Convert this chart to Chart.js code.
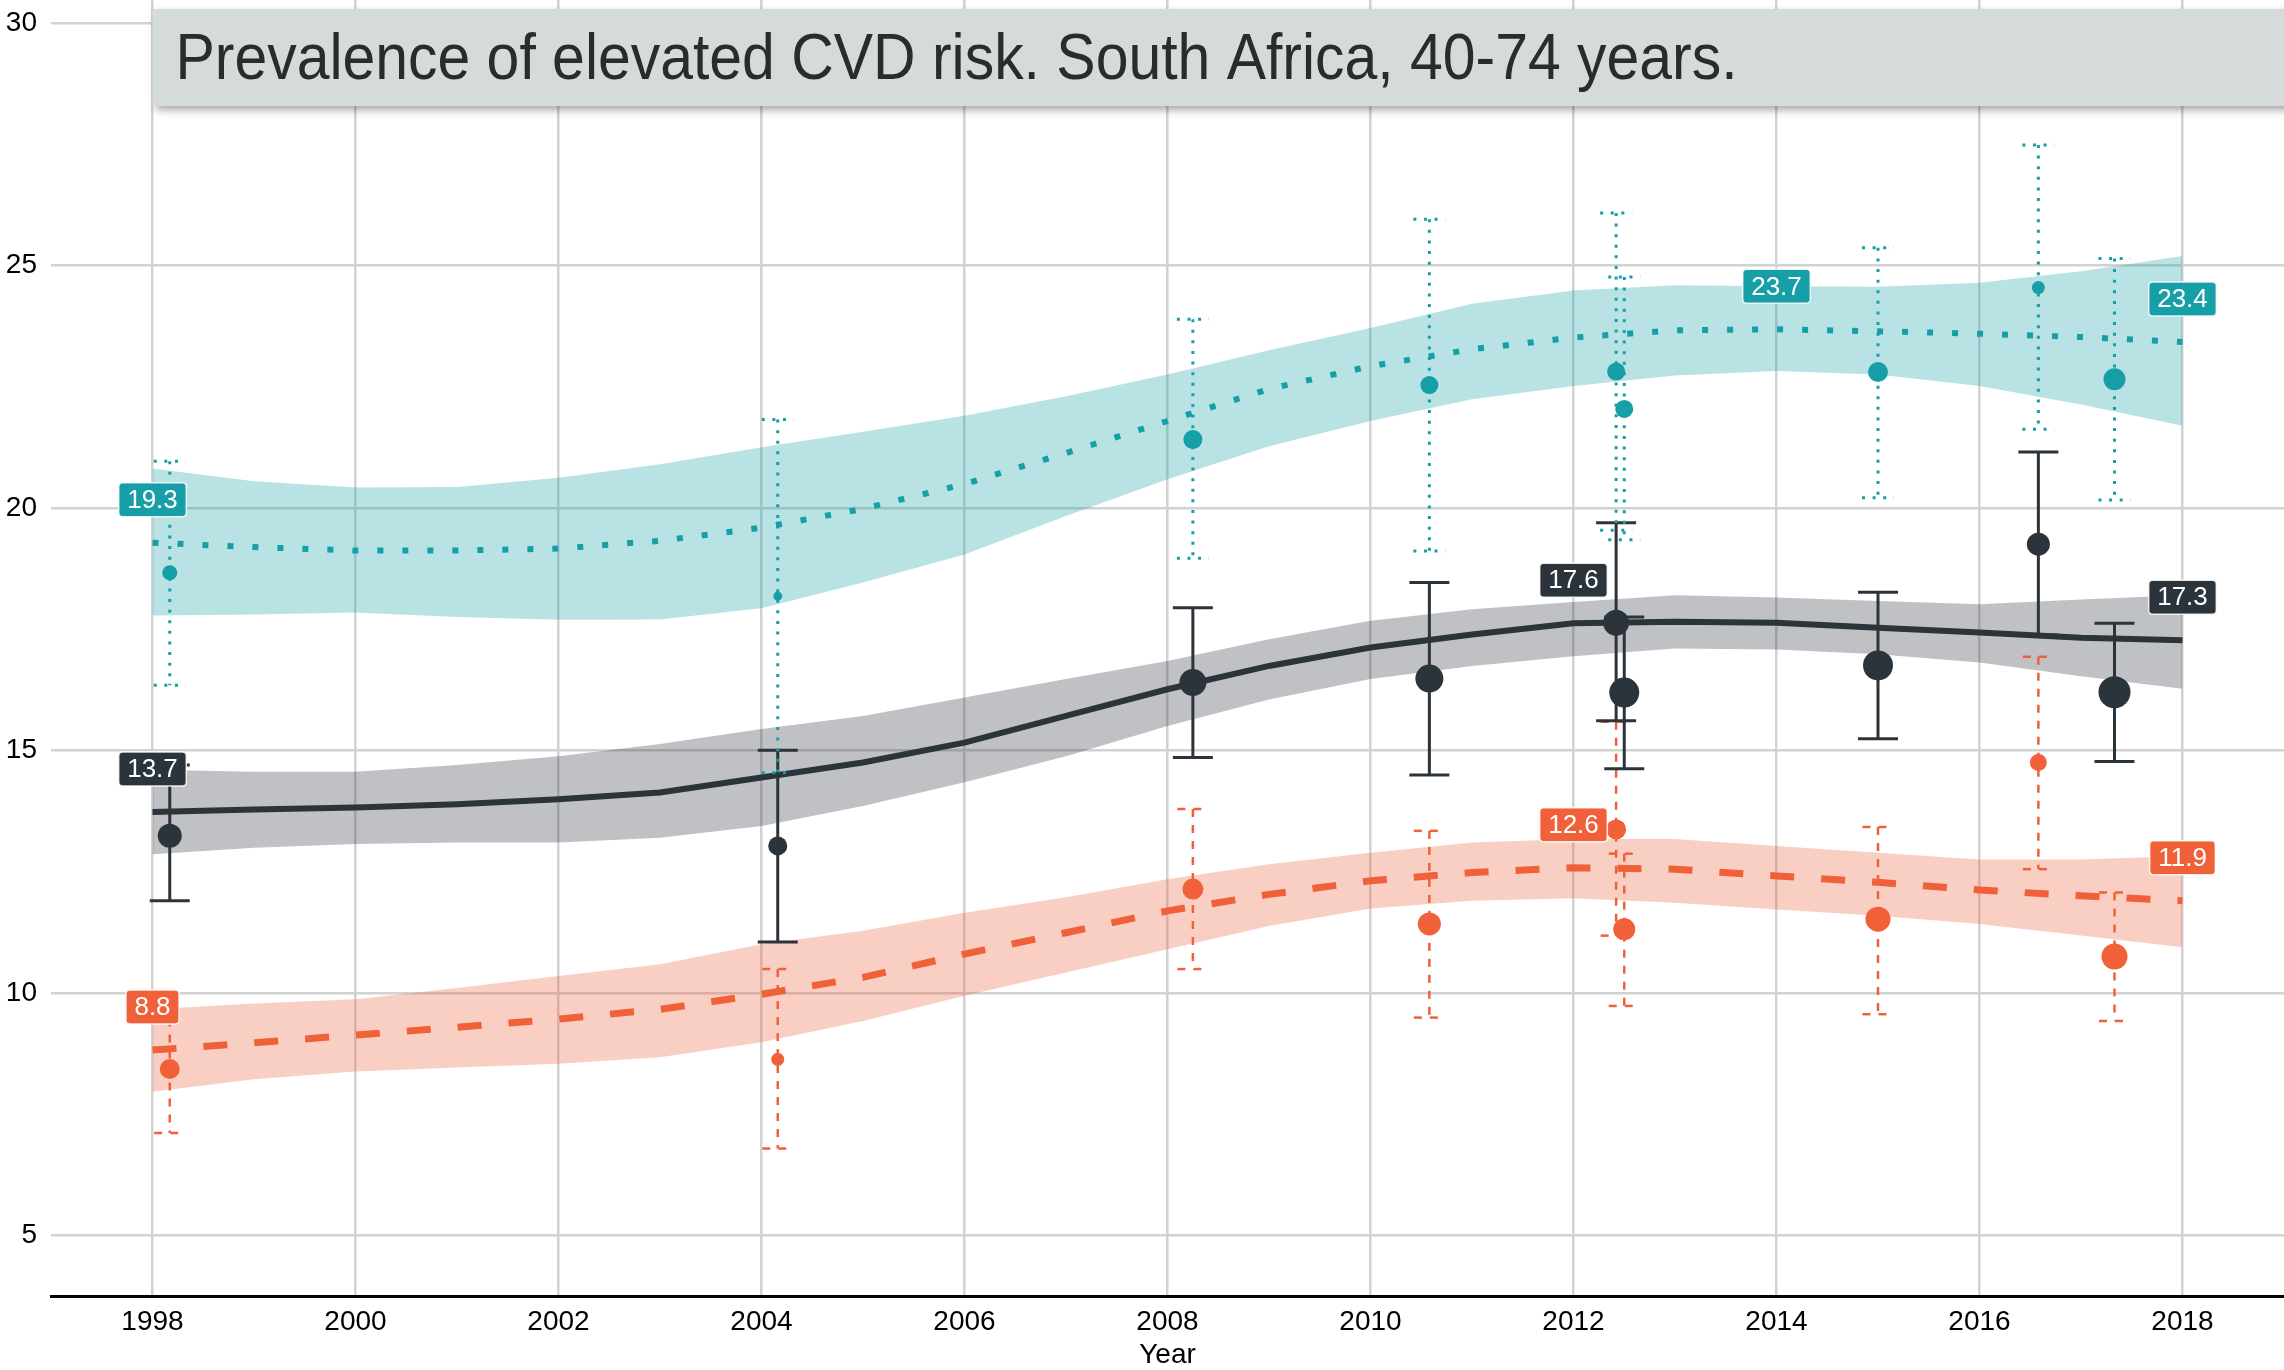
<!DOCTYPE html>
<html lang="en">
<head>
<meta charset="UTF-8">
<title>Prevalence of elevated CVD risk. South Africa, 40-74 years.</title>
<script src="https://cdn.jsdelivr.net/npm/chart.js"></script>
<style>
    body {
        margin: 0;
        padding: 0;
        background: #fff;
    }

    #cvdChart {
        display: block;
    }
</style>
</head>
<body>
<canvas id="cvdChart" width="2284" height="1370"></canvas>

<script>
    // chart text
    const titleText = 'Prevalence of elevated CVD risk. South Africa, 40-74 years.';
    const xTitle = 'Year';
    const xTicks = [1998, 2000, 2002, 2004, 2006, 2008, 2010, 2012, 2014, 2016, 2018];
    const yTicks = [5, 10, 15, 20, 25, 30];

    // fitted trend, one value per year
    const trendYears = [1998, 1999, 2000, 2001, 2002, 2003, 2004, 2005, 2006, 2007, 2008,
        2009, 2010, 2011, 2012, 2013, 2014, 2015, 2016, 2017, 2018];

    const tealTrend = [19.28, 19.19, 19.12, 19.12, 19.16, 19.32, 19.59, 19.98, 20.49, 21.13, 21.79,
        22.45, 22.92, 23.27, 23.51, 23.66, 23.68, 23.64, 23.59, 23.52, 23.42];
    const tealUpper = [20.81, 20.55, 20.42, 20.43, 20.62, 20.90, 21.25, 21.57, 21.90, 22.30, 22.75,
        23.25, 23.71, 24.21, 24.48, 24.59, 24.57, 24.56, 24.64, 24.88, 25.19];
    const tealLower = [17.78, 17.80, 17.84, 17.75, 17.69, 17.70, 17.93, 18.46, 19.04, 19.83, 20.59,
        21.27, 21.79, 22.24, 22.51, 22.73, 22.82, 22.75, 22.51, 22.13, 21.69];

    const darkTrend = [13.73, 13.78, 13.82, 13.89, 13.99, 14.13, 14.44, 14.75, 15.16, 15.71, 16.26,
        16.74, 17.12, 17.39, 17.62, 17.65, 17.63, 17.53, 17.43, 17.32, 17.27];
    const darkUpper = [14.60, 14.56, 14.56, 14.70, 14.88, 15.13, 15.44, 15.71, 16.09, 16.47, 16.84,
        17.29, 17.67, 17.91, 18.06, 18.20, 18.15, 18.08, 18.01, 18.11, 18.20];
    const darkLower = [12.86, 12.99, 13.07, 13.10, 13.10, 13.20, 13.44, 13.85, 14.34, 14.88, 15.50,
        16.05, 16.47, 16.74, 16.94, 17.10, 17.08, 16.98, 16.81, 16.53, 16.27];

    const orangeTrend = [8.82, 8.97, 9.13, 9.29, 9.46, 9.66, 9.97, 10.32, 10.80, 11.24, 11.69,
        12.03, 12.31, 12.48, 12.58, 12.55, 12.41, 12.28, 12.12, 12.00, 11.90];
    const orangeUpper = [9.66, 9.78, 9.87, 10.10, 10.35, 10.59, 11.00, 11.28, 11.65, 11.97, 12.34,
        12.65, 12.89, 13.10, 13.17, 13.17, 13.03, 12.89, 12.75, 12.75, 12.82];
    const orangeLower = [7.96, 8.22, 8.38, 8.46, 8.54, 8.67, 8.98, 9.42, 9.94, 10.42, 10.90,
        11.38, 11.74, 11.90, 11.95, 11.86, 11.72, 11.59, 11.42, 11.18, 10.94];

    // survey estimates
    const surveyYears = [1998.17, 2004.16, 2008.25, 2010.58, 2012.42, 2012.50, 2015.00, 2016.58, 2017.33];

    const tealPoints = [18.66, 18.18, 21.41, 22.53, 22.81, 22.04, 22.80, 24.54, 22.65];
    const tealLow = [16.34, 14.54, 18.96, 19.11, 19.54, 19.34, 20.21, 21.62, 20.16];
    const tealHigh = [20.96, 21.82, 23.89, 25.95, 26.08, 24.76, 25.36, 27.48, 25.14];
    const tealSizes = [7.5, 4.5, 9.5, 9, 9, 9, 10, 6.5, 11];

    const darkPoints = [13.24, 13.03, 16.40, 16.48, 17.63, 16.19, 16.75, 19.25, 16.20];
    const darkLow = [11.90, 11.05, 14.85, 14.49, 15.61, 14.62, 15.24, 17.38, 14.77];
    const darkHigh = [14.70, 15.00, 17.94, 18.46, 19.69, 17.75, 18.26, 21.15, 17.62];
    const darkSizes = [12, 9.5, 13.5, 14, 13, 15, 15, 11.5, 16];

    const orangePoints = [8.43, 8.63, 12.14, 11.42, 13.37, 11.31, 11.52, 14.75, 10.75];
    const orangeLow = [7.11, 6.79, 10.49, 9.49, 11.18, 9.73, 9.56, 12.55, 9.42];
    const orangeHigh = [9.80, 10.49, 13.79, 13.34, 15.59, 12.87, 13.42, 16.93, 12.07];
    const orangeSizes = [10, 6.5, 10.5, 11.5, 10, 11, 12.5, 8.5, 13];

    // years that get a value label on the trend
    const tealLabelYears = [1998, 2014, 2018];
    const darkLabelYears = [1998, 2012, 2018];
    const orangeLabelYears = [1998, 2012, 2018];

    const fontFamily = '"Liberation Sans", Arial, sans-serif';

    const groups = [
        {
            color: '#179fa7', band: 'rgba(23, 159, 167, 0.3)',
            trend: tealTrend, upper: tealUpper, lower: tealLower,
            points: tealPoints, low: tealLow, high: tealHigh, sizes: tealSizes,
            labelYears: tealLabelYears,
            lineWidth: 6, lineDash: [6, 19],
            errWidth: 3, errDash: [3, 7.6], capHalf: 16
        },
        {
            color: '#2b333b', band: 'rgba(43, 51, 59, 0.3)',
            trend: darkTrend, upper: darkUpper, lower: darkLower,
            points: darkPoints, low: darkLow, high: darkHigh, sizes: darkSizes,
            labelYears: darkLabelYears,
            lineWidth: 6, lineDash: [],
            errWidth: 3, errDash: [], capHalf: 20
        },
        {
            color: '#f06139', band: 'rgba(240, 97, 57, 0.3)',
            trend: orangeTrend, upper: orangeUpper, lower: orangeLower,
            points: orangePoints, low: orangeLow, high: orangeHigh, sizes: orangeSizes,
            labelYears: orangeLabelYears,
            lineWidth: 7, lineDash: [24, 27],
            errWidth: 2.5, errDash: [8, 8], capHalf: 15.5
        }
    ];

    const toXY = (xs, ys) => xs.map((x, i) => ({ x: x, y: ys[i] }));

    function buildDatasets() {
        const sets = [];
        groups.forEach(g => {
            sets.push({
                data: toXY(trendYears, g.lower),
                borderColor: 'transparent', borderWidth: 0,
                pointRadius: 0, fill: false, order: 30
            });
            sets.push({
                data: toXY(trendYears, g.upper),
                borderColor: 'transparent', borderWidth: 0,
                backgroundColor: g.band,
                pointRadius: 0, fill: '-1', order: 30
            });
        });
        groups.forEach(g => {
            sets.push({
                data: toXY(trendYears, g.trend),
                borderColor: g.color, borderWidth: g.lineWidth,
                borderDash: g.lineDash, borderCapStyle: 'butt',
                pointRadius: 0, fill: false, tension: 0, order: 20
            });
        });
        groups.forEach(g => {
            sets.push({
                data: toXY(surveyYears, g.points),
                showLine: false,
                pointRadius: g.sizes, pointHoverRadius: g.sizes,
                pointBackgroundColor: g.color, pointBorderWidth: 0,
                backgroundColor: g.color, borderColor: g.color,
                errLow: g.low, errHigh: g.high,
                errWidth: g.errWidth, errDash: g.errDash, capHalf: g.capHalf,
                order: 10
            });
        });
        return sets;
    }

    function roundedRect(ctx, x, y, w, h, r) {
        ctx.beginPath();
        ctx.moveTo(x + r, y);
        ctx.lineTo(x + w - r, y);
        ctx.quadraticCurveTo(x + w, y, x + w, y + r);
        ctx.lineTo(x + w, y + h - r);
        ctx.quadraticCurveTo(x + w, y + h, x + w - r, y + h);
        ctx.lineTo(x + r, y + h);
        ctx.quadraticCurveTo(x, y + h, x, y + h - r);
        ctx.lineTo(x, y + r);
        ctx.quadraticCurveTo(x, y, x + r, y);
        ctx.closePath();
    }

    // vertical error bars with caps, drawn just under each point set
    const errorBarPlugin = {
        id: 'errorBars',
        beforeDatasetDraw(chart, args) {
            const ds = chart.data.datasets[args.index];
            if (!ds.errLow) return;
            const ctx = chart.ctx;
            const xs = chart.scales.x;
            const ys = chart.scales.y;
            ctx.save();
            ctx.strokeStyle = ds.borderColor;
            ctx.lineWidth = ds.errWidth;
            ctx.setLineDash(ds.errDash);
            ds.data.forEach((p, i) => {
                const x = xs.getPixelForValue(p.x);
                const top = ys.getPixelForValue(ds.errHigh[i]);
                const bot = ys.getPixelForValue(ds.errLow[i]);
                ctx.beginPath();
                ctx.moveTo(x - ds.capHalf, top);
                ctx.lineTo(x + ds.capHalf, top);
                ctx.stroke();
                ctx.beginPath();
                ctx.moveTo(x, top);
                ctx.lineTo(x, bot);
                ctx.stroke();
                ctx.beginPath();
                ctx.moveTo(x - ds.capHalf, bot);
                ctx.lineTo(x + ds.capHalf, bot);
                ctx.stroke();
            });
            ctx.restore();
        }
    };

    // boxed value labels above the trend lines
    const valueLabelPlugin = {
        id: 'valueLabels',
        afterDatasetsDraw(chart) {
            const ctx = chart.ctx;
            const xs = chart.scales.x;
            const ys = chart.scales.y;
            ctx.save();
            ctx.font = '26px ' + fontFamily;
            ctx.textAlign = 'center';
            ctx.textBaseline = 'middle';
            groups.forEach(g => {
                g.labelYears.forEach(yr => {
                    const v = g.trend[trendYears.indexOf(yr)];
                    const txt = v.toFixed(1);
                    const cx = xs.getPixelForValue(yr);
                    const cy = ys.getPixelForValue(v) - 43;
                    const w = ctx.measureText(txt).width + 17;
                    const h = 34;
                    roundedRect(ctx, cx - w / 2, cy - h / 2, w, h, 4);
                    ctx.fillStyle = g.color;
                    ctx.fill();
                    ctx.strokeStyle = 'rgba(255, 255, 255, 0.85)';
                    ctx.lineWidth = 1.5;
                    ctx.stroke();
                    ctx.fillStyle = '#fff';
                    ctx.fillText(txt, cx, cy + 1);
                });
            });
            ctx.restore();
        }
    };

    // grey title banner across the top of the plot
    const titleBoxPlugin = {
        id: 'titleBox',
        afterDraw(chart) {
            const ctx = chart.ctx;
            const left = chart.scales.x.getPixelForValue(xTicks[0]);
            ctx.save();
            ctx.shadowColor = 'rgba(0, 0, 0, 0.35)';
            ctx.shadowBlur = 8;
            ctx.shadowOffsetX = 3;
            ctx.shadowOffsetY = 4;
            ctx.fillStyle = '#d5dbdb';
            ctx.fillRect(left, 9, chart.width - left + 10, 97);
            ctx.restore();

            ctx.save();
            ctx.font = '64px ' + fontFamily;
            ctx.fillStyle = '#2b2b2b';
            ctx.textBaseline = 'alphabetic';
            const w = ctx.measureText(titleText).width;
            ctx.translate(left + 23, 79);
            ctx.scale(1562 / w, 1);
            ctx.fillText(titleText, 0, 0);
            ctx.restore();
        }
    };

    const ctx = document.getElementById('cvdChart').getContext('2d');
    new Chart(ctx, {
        type: 'line',
        data: { datasets: buildDatasets() },
        options: {
            responsive: false,
            animation: false,
            devicePixelRatio: 1,
            layout: { padding: 0, autoPadding: false },
            plugins: {
                legend: { display: false },
                tooltip: { enabled: false },
                title: { display: false }
            },
            scales: {
                x: {
                    type: 'linear',
                    min: 1997,
                    max: 2019,
                    afterFit(s) {
                        s.height = 74;
                        s.paddingLeft = 0;
                        s.paddingRight = 0;
                    },
                    afterBuildTicks(s) { s.ticks = xTicks.map(v => ({ value: v })); },
                    grid: { color: '#d2d2d2', lineWidth: 2.5, drawTicks: false },
                    border: { display: true, color: '#000', width: 3 },
                    ticks: {
                        font: { size: 28, family: fontFamily },
                        color: '#000',
                        padding: 9,
                        autoSkip: false,
                        maxRotation: 0,
                        callback: v => String(v)
                    },
                    title: {
                        display: true,
                        text: xTitle,
                        font: { size: 28, family: fontFamily },
                        color: '#000',
                        padding: { top: 0, bottom: -2 }
                    }
                },
                y: {
                    type: 'linear',
                    min: 3.75,
                    max: 30.47,
                    afterFit(s) {
                        s.width = 51;
                        s.paddingTop = 0;
                        s.paddingBottom = 0;
                    },
                    afterBuildTicks(s) { s.ticks = yTicks.map(v => ({ value: v })); },
                    grid: { color: '#d2d2d2', lineWidth: 2.5, drawTicks: false },
                    border: { display: false },
                    ticks: {
                        font: { size: 28, family: fontFamily },
                        color: '#000',
                        padding: 14
                    }
                }
            }
        },
        plugins: [errorBarPlugin, valueLabelPlugin, titleBoxPlugin]
    });
</script>
</body>
</html>
